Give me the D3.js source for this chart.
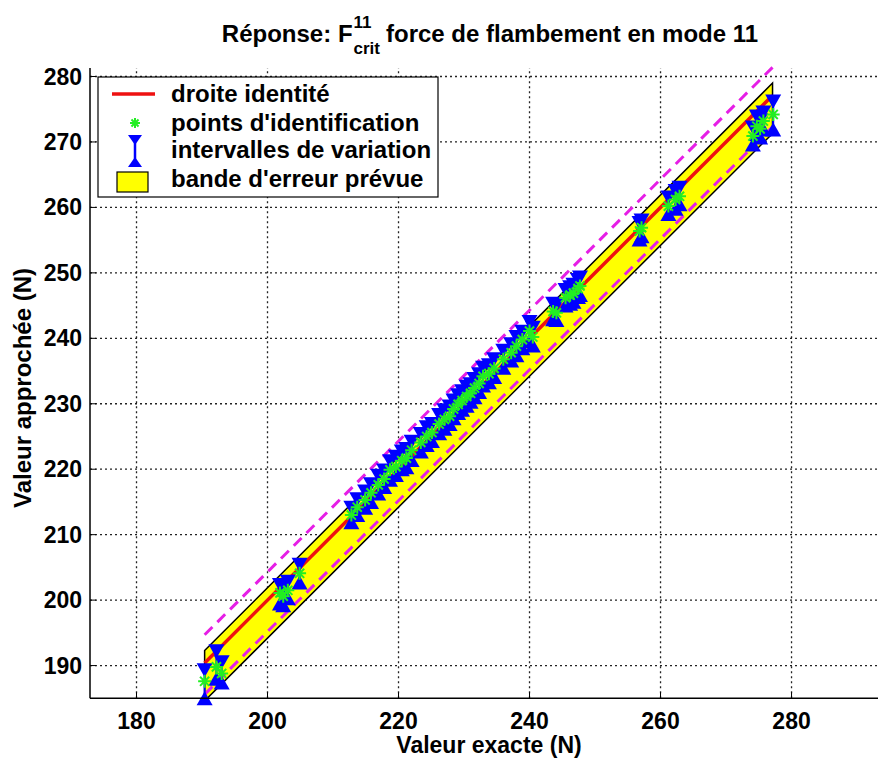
<!DOCTYPE html>
<html><head><meta charset="utf-8">
<script src="https://cdn.jsdelivr.net/npm/d3@7"></script>
<style>
body{margin:0;background:#fff}
text{font-family:"Liberation Sans",Arial,Helvetica,sans-serif;font-weight:bold;fill:#000}
</style>
</head><body>
<svg id="chart" width="878" height="758"></svg>
<script>
// ---------- data ----------
const xTicks = [180, 200, 220, 240, 260, 280];
const yTicks = [190, 200, 210, 220, 230, 240, 250, 260, 270, 280];

// identification points: exact value (x), approximated value (y), variation interval [low, high]
const exactX  = [190.4,192.2,193.0,201.9,202.4,203.1,204.9,212.8,213.7,214.9,215.8,216.9,217.8,218.7,219.6,220.5,221.2,222.0,223.4,224.3,225.1,226.2,227.0,227.8,228.4,229.1,229.7,230.4,231.0,231.6,232.3,232.9,233.8,234.6,236.0,237.2,238.0,238.9,240.0,240.5,243.6,244.1,245.5,246.2,246.7,247.4,247.7,256.8,257.1,261.2,262.3,262.9,274.1,274.7,275.2,275.7,277.2];
const approxY = [187.6,189.8,188.8,201.1,200.6,201.5,204.1,213.0,214.2,215.3,216.4,217.6,218.5,219.9,220.4,221.3,221.7,222.9,224.1,225.0,225.6,226.9,227.6,228.1,229.2,229.9,230.5,231.1,231.6,232.4,233.1,234.2,234.6,235.4,236.8,237.8,238.8,239.8,241.1,240.2,244.1,243.9,246.2,246.6,246.9,247.6,248.0,256.4,256.9,260.2,261.2,261.7,270.9,272.4,272.0,273.2,274.2];
const lowY    = [185.0,188.0,187.4,199.5,199.2,200.3,202.7,211.9,213.0,214.1,215.0,216.3,217.3,218.4,219.1,220.0,220.3,221.4,222.7,223.7,224.3,225.5,226.2,226.9,227.8,228.6,229.1,229.7,230.3,231.0,231.8,232.8,233.3,234.1,235.5,236.6,237.4,238.5,239.6,238.9,242.9,242.8,245.0,245.3,245.6,246.3,246.6,255.1,255.6,259.0,259.8,260.5,269.6,271.2,270.7,271.9,271.9];
const highY   = [189.3,192.2,190.5,202.3,201.9,202.8,205.4,214.1,215.4,216.6,217.7,219.0,219.8,221.2,221.9,222.7,223.1,224.2,225.4,226.4,226.9,228.3,229.0,229.6,230.5,231.3,231.9,232.6,233.0,233.8,234.5,235.5,235.9,236.8,238.1,239.1,240.2,241.0,242.5,241.6,245.3,245.0,247.4,247.8,248.2,248.9,249.3,257.6,258.0,261.5,262.5,263.0,272.2,273.9,273.3,274.5,276.2];

// identity line, expected error band, dashed bounds
const identityX  = [190.4, 277.1];
const bandX      = [190.4, 277.1];
const bandUpper  = [192.3, 279.0];
const bandLower  = [184.6, 271.3];
const dashX      = [190.4, 277.1];
const dashUpper  = [194.7, 281.4];
const dashLower  = [185.6, 272.3];

const legendLabels = ["droite identité", "points d'identification", "intervalles de variation", "bande d'erreur prévue"];

// ---------- layout ----------
const svg = d3.select("#chart");
const L = 90, B = 698.3, T = 68, R = 878;
const x = d3.scaleLinear().domain([172.9, 293.2]).range([L, R]);
const y = d3.scaleLinear().domain([185, 281.3]).range([B, T]);

const defs = svg.append("defs");
defs.append("clipPath").attr("id", "clip").append("rect")
  .attr("x", L).attr("y", T - 20).attr("width", R - L).attr("height", B - T + 20);

// grid
const grid = svg.append("g").attr("stroke", "#222").attr("stroke-width", 1.3).attr("stroke-dasharray", "2,3");
grid.selectAll("line.gx").data(xTicks).join("line")
  .attr("x1", d => x(d)).attr("x2", d => x(d)).attr("y1", B).attr("y2", T);
grid.selectAll("line.gy").data(yTicks).join("line")
  .attr("x1", L).attr("x2", R).attr("y1", d => y(d)).attr("y2", d => y(d));

const plot = svg.append("g").attr("clip-path", "url(#clip)");

// band
const bandPts = [
  [bandX[0], bandUpper[0]], [bandX[1], bandUpper[1]],
  [bandX[1], bandLower[1]], [bandX[0], bandLower[0]]
];
plot.append("path")
  .attr("d", d3.line().x(d => x(d[0])).y(d => y(d[1]))(bandPts) + "Z")
  .attr("fill", "#ffff00").attr("stroke", "#000").attr("stroke-width", 1.5);

// identity line
plot.append("line")
  .attr("x1", x(identityX[0])).attr("y1", y(identityX[0]))
  .attr("x2", x(identityX[1])).attr("y2", y(identityX[1]))
  .attr("stroke", "#ee1111").attr("stroke-width", 3.5);

// dashed bounds
[dashUpper, dashLower].forEach(arr => {
  plot.append("line")
    .attr("x1", x(dashX[0])).attr("y1", y(arr[0]))
    .attr("x2", x(dashX[1])).attr("y2", y(arr[1]))
    .attr("stroke", "#e61ee6").attr("stroke-width", 3).attr("stroke-dasharray", "11,7");
});

// error intervals
const pts = exactX.map((d, i) => ({x: d, y: approxY[i], lo: lowY[i], hi: highY[i]}));
const tw = 8, th = 7;
const downTri = (cx, cy) => `M${cx - tw},${cy - th}L${cx + tw},${cy - th}L${cx},${cy + th}Z`;
const upTri = (cx, cy) => `M${cx - tw},${cy + th}L${cx + tw},${cy + th}L${cx},${cy - th}Z`;
const eb = svg.append("g");
eb.selectAll("line").data(pts).join("line")
  .attr("x1", d => x(d.x)).attr("x2", d => x(d.x))
  .attr("y1", d => y(d.lo)).attr("y2", d => y(d.hi))
  .attr("stroke", "#0000ff").attr("stroke-width", 2);
eb.selectAll("path.dn").data(pts).join("path").attr("class", "dn")
  .attr("d", d => downTri(x(d.x), y(d.hi))).attr("fill", "#0000ff");
eb.selectAll("path.up").data(pts).join("path").attr("class", "up")
  .attr("d", d => upTri(x(d.x), y(d.lo))).attr("fill", "#0000ff");

// asterisks
const ast = (cx, cy, r) => {
  const k = r * 0.707;
  return `M${cx - r},${cy}L${cx + r},${cy}M${cx},${cy - r}L${cx},${cy + r}` +
         `M${cx - k},${cy - k}L${cx + k},${cy + k}M${cx - k},${cy + k}L${cx + k},${cy - k}`;
};
svg.append("g").selectAll("path").data(pts).join("path")
  .attr("d", d => ast(x(d.x), y(d.y), 6.5))
  .attr("stroke", "#22ee22").attr("stroke-width", 2).attr("fill", "none");

// axes lines
svg.append("line").attr("x1", L).attr("x2", L).attr("y1", T).attr("y2", B).attr("stroke", "#000").attr("stroke-width", 1.5);
svg.append("line").attr("x1", L).attr("x2", R).attr("y1", B).attr("y2", B).attr("stroke", "#000").attr("stroke-width", 1.5);

// ticks
svg.append("g").selectAll("line").data(xTicks).join("line")
  .attr("x1", d => x(d)).attr("x2", d => x(d)).attr("y1", B).attr("y2", B - 6)
  .attr("stroke", "#000").attr("stroke-width", 1);
svg.append("g").selectAll("line").data(yTicks).join("line")
  .attr("x1", L).attr("x2", L + 6).attr("y1", d => y(d)).attr("y2", d => y(d))
  .attr("stroke", "#000").attr("stroke-width", 1);

svg.append("g").selectAll("text").data(xTicks).join("text")
  .attr("x", d => x(d)).attr("y", 729).attr("text-anchor", "middle")
  .style("font-size", "23px").text(d => d);
svg.append("g").selectAll("text").data(yTicks).join("text")
  .attr("x", 82).attr("y", d => y(d) + 8).attr("text-anchor", "end")
  .style("font-size", "23px").text(d => d);

// axis titles
svg.append("text").attr("x", 489).attr("y", 753).attr("text-anchor", "middle")
  .style("font-size", "23px").text("Valeur exacte (N)");
svg.append("text").attr("transform", "translate(31,388) rotate(-90)").attr("text-anchor", "middle")
  .style("font-size", "24px").text("Valeur approchée (N)");

// title
const tg = svg.append("g");
const t1 = tg.append("text").attr("x", 0).attr("y", 42).style("font-size", "24px").text("Réponse: F");
const w1 = t1.node().getComputedTextLength();
const tsup = tg.append("text").attr("x", w1 + 1).attr("y", 28).style("font-size", "17px").text("11");
const tsub = tg.append("text").attr("x", w1 + 1).attr("y", 54).style("font-size", "17px").text("crit");
const w2 = Math.max(tsup.node().getComputedTextLength(), tsub.node().getComputedTextLength());
const t3 = tg.append("text").attr("x", w1 + w2 + 7).attr("y", 42).style("font-size", "24px").text("force de flambement en mode 11");
const wTot = w1 + w2 + 7 + t3.node().getComputedTextLength();
tg.attr("transform", `translate(${490 - wTot / 2},0)`);

// legend
const lg = svg.append("g");
lg.append("rect").attr("x", 98).attr("y", 77).attr("width", 340).attr("height", 120)
  .attr("fill", "#fff").attr("stroke", "#000").attr("stroke-width", 1.2);
const rowY = [94, 123, 150, 179];
lg.append("line").attr("x1", 112).attr("x2", 155).attr("y1", rowY[0]).attr("y2", rowY[0])
  .attr("stroke", "#ee1111").attr("stroke-width", 3.5);
lg.append("path").attr("d", ast(135, rowY[1], 5)).attr("stroke", "#22ee22").attr("stroke-width", 2);
lg.append("line").attr("x1", 135).attr("x2", 135).attr("y1", 139).attr("y2", 162)
  .attr("stroke", "#0000ff").attr("stroke-width", 2.5);
lg.append("path").attr("d", `M128,135L142,135L135,145Z`).attr("fill", "#0000ff");
lg.append("path").attr("d", `M128,167L142,167L135,157Z`).attr("fill", "#0000ff");
lg.append("rect").attr("x", 117).attr("y", 172).attr("width", 31).attr("height", 20)
  .attr("fill", "#ffff00").attr("stroke", "#000").attr("stroke-width", 1.2);
lg.selectAll("text").data(legendLabels).join("text")
  .attr("x", 171).attr("y", (d, i) => rowY[i] + 8)
  .style("font-size", "24px").text(d => d);
</script>
</body></html>
